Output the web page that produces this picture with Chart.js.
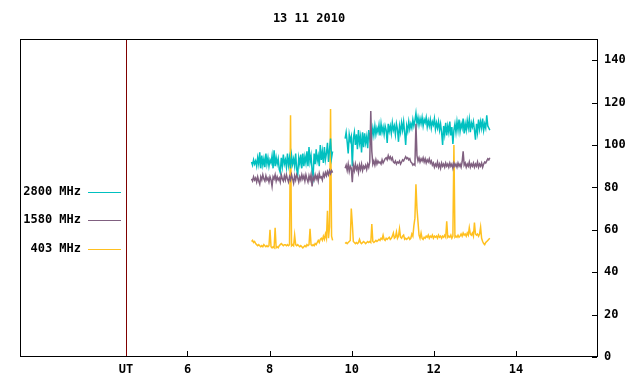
<!DOCTYPE html>
<html><head><meta charset="utf-8">
<script src="https://cdn.jsdelivr.net/npm/chart.js@4"></script>
<style>html,body{margin:0;padding:0;background:#fff}</style>
</head><body>
<canvas id="c" width="640" height="384"></canvas>
<script>
const chartTitle = '13 11 2010';
const seriesNames = ['2800 MHz', '1580 MHz', '403 MHz'];
const seriesColors = ['#00c0c0', '#806080', '#ffc020'];
const seg1Start = 7.56, seg2Start = 9.84, sampleStep = 0.025;
const xTicks = [4.5, 6, 8, 10, 12, 14];
const xTickLabels = ['UT', '6', '8', '10', '12', '14'];
const yTicks = [0, 20, 40, 60, 80, 100, 120, 140];

const teal1 = [92,90.5,93,91,92.5,90,94,91,96.5,89,
95,90.5,93.5,89.5,96,91,94,90,93,91.5,
95,89,97.5,90,94,91,93.5,88.5,87,94,
90,95.5,91,93,89.5,96,90.5,94,89,95,
91,93.5,90,96,88.5,86,94,91,95.5,89,
96,90,94.5,91.5,97,90,99,92,95,88,
85,96,91,98,92.5,95,90,100,93,97,
91.5,99,93,96,101,92,98,103,94,97];
const teal2 = [103,106,101.5,96,105,102,104,90,103,106,
100,105,98,107,101,104,96.5,106,99,105.5,
101,104,98.5,107,103,106,104,108,104.5,109,
105,108,106,109.5,104.5,110,106,108.5,105,109,
107,101,110,106.5,109,105.5,110.5,107,109,105,
110,107.5,101.5,109,106,110.5,107,111,106,100,
109,106.5,111,107.5,110,108,112,109,111.5,115,
110,113,109.5,112.5,110,113,109,112,110.5,113,
108.5,111.5,109,112,108,111,109.5,112.5,107.5,110.5,
108,111,107,110,106,100,109,105,110.5,104.5,
109,106,111,104.5,108.5,100.5,107,110,106,111,
107,112,106.5,110,108,112.5,105.5,110,107,111.5,
108,112,106,110.5,108.5,111,107,102.5,110,106,
112,107.5,111,108,112.5,107,110,108,114,109,
108,107];
const purple1 = [84,83,85,83.5,84.5,82.5,85,83,81.5,85,
83.5,86,84,83,85.5,83.5,84.5,82.5,85,83.5,
80.5,85,84,86,83,85,83.5,84.5,82.5,86,
84,83,85.5,83.5,86,84,82.5,85,83.5,86,
84,82,85.5,83.5,86,84.5,82.5,85,83.5,86,
84,85.5,83,86,84,82.5,85.5,83.5,86,80.5,
85,83.5,86,84,85.5,83,86.5,84.5,85,83.5,
86.5,85,87,85.5,87.5,86,88,86.5,88,87];
const purple2 = [89,90.5,88,91,87.5,90,89,82.5,90.5,88,
91,88.5,90,87,90.5,88.5,91,88,90,89,
90.5,88.5,91,89.5,92,116,97,91,92.5,90.5,
93,91,92.5,91.5,92,91,93,91.5,92.5,93.5,
94,93,95,93.5,94.5,93,94,92,91.5,92.5,
91,92,91.5,92.5,91,92,93,92.5,93.5,94.5,
93.5,94,93,93.5,92,91.5,90.5,91,90.5,110,
95,92.5,94,92,93.5,92.5,94,92,93.5,91.5,
93,92,93.5,91.5,92.5,90.5,91.5,89.5,91,90,
92,89.5,91,89,91.5,90,91,89.5,91.5,90,
91,89.5,91.5,90,91,89,91.5,90,91,89.5,
91.5,90,91,89.5,92,97,90.5,91.5,89.5,91,
90,92,89.5,91,90,91.5,89.5,91,90,92,
89.5,91,90,91.5,89.5,91,92,91.5,92.5,93.5,
93,94];
const gold1 = [54.5,55,54,54.5,53.5,53,52.5,53,52.5,52,
52.5,52,53,52.5,52,52.5,52,52.5,60,52,
51.5,52,51.5,61,51.5,52,51.5,52.5,53,53.5,
53,52.5,53,53,52.5,53,52.5,53,114,52.5,
53,52.5,57.5,53,52.5,53,52.5,52,52.5,52,
51.5,52,52.5,52,53,52.5,53,60.5,53,52.5,
53,52.5,53.5,53,54,55,54,55.5,56,55,
57,55.5,58,56,69,56,61.5,117,57,55];
const gold2 = [53.5,54,53.5,54,54.5,55,70,63,54.5,54,
53.5,54,53.5,54,55.5,54,53.5,54,54.5,54,
53.5,54,54.5,54,54.5,54,62.7,54.5,54,54.5,
55,54.5,55,55.5,55,56,55.5,57.5,55.5,55,
56,55.5,56,56.5,55.5,56,57,58.5,56,56.5,
59,56,57,60.5,56.5,56,57,57.5,55.5,56,
55.5,56,56.5,55.5,56,58,57,62,65.5,81.5,
70,63.8,57.5,56,58.5,56,55.5,56.5,56,57,
56.5,57.5,56,57,56.5,57.5,56,57,56.5,57,
56,57.5,56.5,57,56,57,56.5,57.5,56.5,64,
56.5,57,56.5,57.5,56,57,100,56.5,57,56.5,
57.5,56.5,57,58,57,58.5,57.5,58,57,58.5,
57.5,61,58,57.5,58.5,57,63.4,58,57.5,58,
57,58,61.3,56,54.5,53.5,53,54,54.5,55,
55.5,56];

function buildPoints(a, b) {
  const pts = a.map((v, i) => ({x: seg1Start + i * sampleStep, y: v}));
  pts.push({x: seg1Start + a.length * sampleStep, y: null});
  b.forEach((v, i) => pts.push({x: seg2Start + i * sampleStep, y: v}));
  return pts;
}

const FONT = '"DejaVu Sans Mono", "Liberation Mono", monospace';
const font = {family: FONT, size: 12, weight: 'bold'};

const framePlugin = {
  id: 'frame',
  afterDatasetsDraw(chart) {
    const ctx = chart.ctx, ca = chart.chartArea;
    const xs = chart.scales.x, ys = chart.scales.y;
    ctx.save();
    ctx.lineWidth = 1;
    ctx.strokeStyle = '#800000';
    const ux = Math.round(xs.getPixelForValue(4.5)) + 0.5;
    ctx.beginPath(); ctx.moveTo(ux, ca.top); ctx.lineTo(ux, ca.bottom); ctx.stroke();
    ctx.strokeStyle = '#000';
    ctx.strokeRect(ca.left + 0.5, ca.top + 0.5, ca.right - ca.left - 1, ca.bottom - ca.top - 1);
    ctx.beginPath();
    xTicks.forEach(v => {
      if (v === 4.5) return;
      const px = Math.round(xs.getPixelForValue(v)) + 0.5;
      ctx.moveTo(px, ca.bottom - 1); ctx.lineTo(px, ca.bottom - 6);
    });
    yTicks.forEach(v => {
      const py = Math.round(ys.getPixelForValue(v)) + 0.5;
      ctx.moveTo(ca.right - 1, py); ctx.lineTo(ca.right - 6, py);
    });
    ctx.stroke();
    ctx.font = 'bold 12px ' + FONT;
    ctx.textAlign = 'right';
    ctx.textBaseline = 'middle';
    const ly = [192, 219.5, 248.5];
    seriesNames.forEach((n, i) => {
      ctx.fillStyle = '#000';
      ctx.fillText(n, ca.left + 61, ly[i]);
      ctx.strokeStyle = seriesColors[i];
      const yy = Math.round(ly[i]) + 0.5;
      ctx.beginPath(); ctx.moveTo(ca.left + 68, yy); ctx.lineTo(ca.left + 101, yy); ctx.stroke();
    });
    ctx.restore();
  }
};

new Chart(document.getElementById('c'), {
  type: 'line',
  data: {
    datasets: [
      {label: seriesNames[0], data: buildPoints(teal1, teal2), borderColor: seriesColors[0], order: 1},
      {label: seriesNames[1], data: buildPoints(purple1, purple2), borderColor: seriesColors[1], order: 0},
      {label: seriesNames[2], data: buildPoints(gold1, gold2), borderColor: seriesColors[2], order: 2}
    ]
  },
  options: {
    responsive: false,
    animation: false,
    devicePixelRatio: 1,
    layout: {padding: {left: 20, right: 0, top: 0, bottom: 0}},
    datasets: {line: {borderWidth: 1.5, pointRadius: 0, tension: 0, spanGaps: false, fill: false}},
    plugins: {
      legend: {display: false},
      tooltip: {enabled: false},
      title: {display: true, text: chartTitle, fullSize: false, font: font, color: '#000', padding: {top: 12, bottom: 12.6}}
    },
    scales: {
      x: {
        type: 'linear', min: 1.92, max: 16,
        grid: {display: false, drawTicks: false},
        border: {display: false},
        afterBuildTicks: s => { s.ticks = xTicks.map(v => ({value: v})); },
        afterFit: s => { s.height = 27; },
        ticks: {callback: (v, i) => xTickLabels[i], autoSkip: false, maxRotation: 0, padding: 6, font: font, color: '#000'}
      },
      y: {
        position: 'right', min: 0, max: 150,
        grid: {display: false, drawTicks: false},
        border: {display: false},
        afterBuildTicks: s => { s.ticks = yTicks.map(v => ({value: v})); },
        afterFit: s => { s.width = 42; },
        ticks: {autoSkip: false, padding: 6, font: font, color: '#000'}
      }
    }
  },
  plugins: [framePlugin]
});
</script>
</body></html>
